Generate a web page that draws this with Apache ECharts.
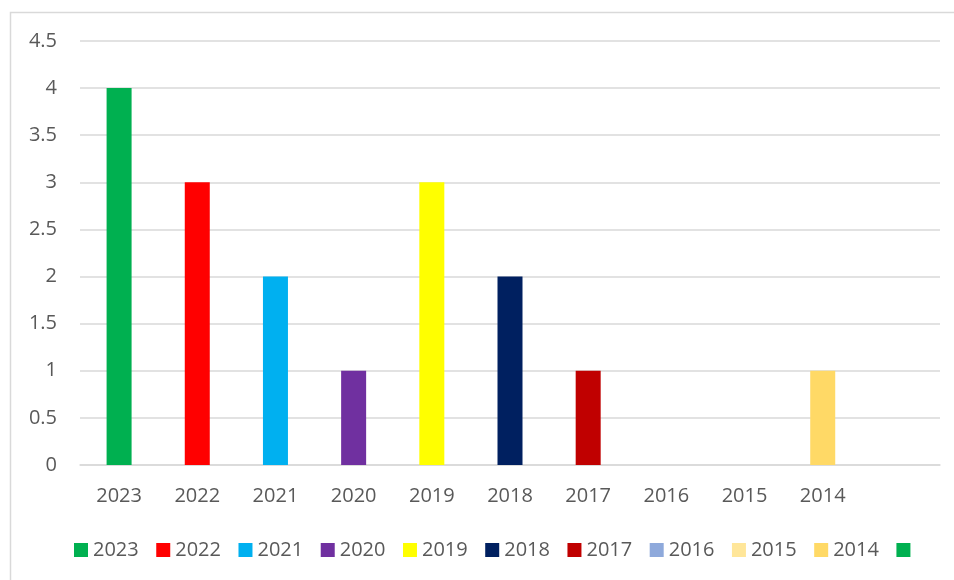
<!DOCTYPE html>
<html>
<head>
<meta charset="utf-8">
<script src="https://cdn.jsdelivr.net/npm/echarts@6/dist/echarts.min.js"></script>
<style>
    html, body { margin: 0; padding: 0; background: #fff; }
    #chart { width: 954px; height: 580px; }
</style>
</head>
<body>
<div id="chart"></div>
<script>
// 年份 (最后一个类目为空)
var years = ['2023', '2022', '2021', '2020', '2019', '2018', '2017', '2016', '2015', '2014', ''];
var counts = [4, 3, 2, 1, 3, 2, 1, 0, 0, 1, 0];
var barColors = ['#00B050', '#FF0000', '#00B0F0', '#7030A0', '#FFFF00', '#002060',
                 '#C00000', '#8EA9DB', '#FFE699', '#FFD966', '#00B050'];
var yTicks = [0, 0.5, 1, 1.5, 2, 2.5, 3, 3.5, 4, 4.5];

var textColor = '#595959';
var lineColor = '#D9D9D9';
var fontFamily = '"Open Sans", "Noto Sans", sans-serif';

// 每个年份一个系列, 堆叠在一起, 这样图例可以逐项显示
var series = [];
var legendNames = [];
for (var i = 0; i < years.length; i++) {
    var name = years[i] === '' ? ' ' : years[i];
    legendNames.push(name);
    var d = [];
    for (var j = 0; j < years.length; j++) {
        d.push(j === i ? counts[i] : null);
    }
    series.push({
        name: name,
        type: 'bar',
        stack: 'total',
        barWidth: 25,
        data: d,
        itemStyle: { color: barColors[i] }
    });
}

var myChart = echarts.init(document.getElementById('chart'));
var option = {
    animation: false,
    backgroundColor: '#fff',
    graphic: [{
        type: 'rect',
        shape: { x: 10.5, y: 12.5, width: 980, height: 620 },
        style: { fill: 'none', stroke: lineColor, lineWidth: 1.5 },
        silent: true
    }],
    grid: { left: 80, right: 14, top: 41, bottom: 115 },
    legend: {
        data: legendNames,
        left: 74,
        top: 540,
        padding: 0,
        itemWidth: 14,
        itemHeight: 14,
        itemGap: 17.5,
        icon: 'rect',
        textStyle: { color: textColor, fontSize: 20, fontFamily: fontFamily }
    },
    xAxis: {
        type: 'category',
        data: years,
        axisLine: { show: true, lineStyle: { color: lineColor, width: 1.5 } },
        axisTick: { show: false },
        axisLabel: { color: textColor, fontSize: 20, fontFamily: fontFamily, margin: 21 }
    },
    yAxis: {
        type: 'value',
        min: yTicks[0],
        max: yTicks[yTicks.length - 1],
        interval: 0.5,
        axisLine: { show: false },
        axisTick: { show: false },
        splitLine: { lineStyle: { color: lineColor, width: 1.5 } },
        axisLabel: { color: textColor, fontSize: 20, fontFamily: fontFamily, margin: 23 }
    },
    series: series
};
myChart.setOption(option);
</script>
</body>
</html>
